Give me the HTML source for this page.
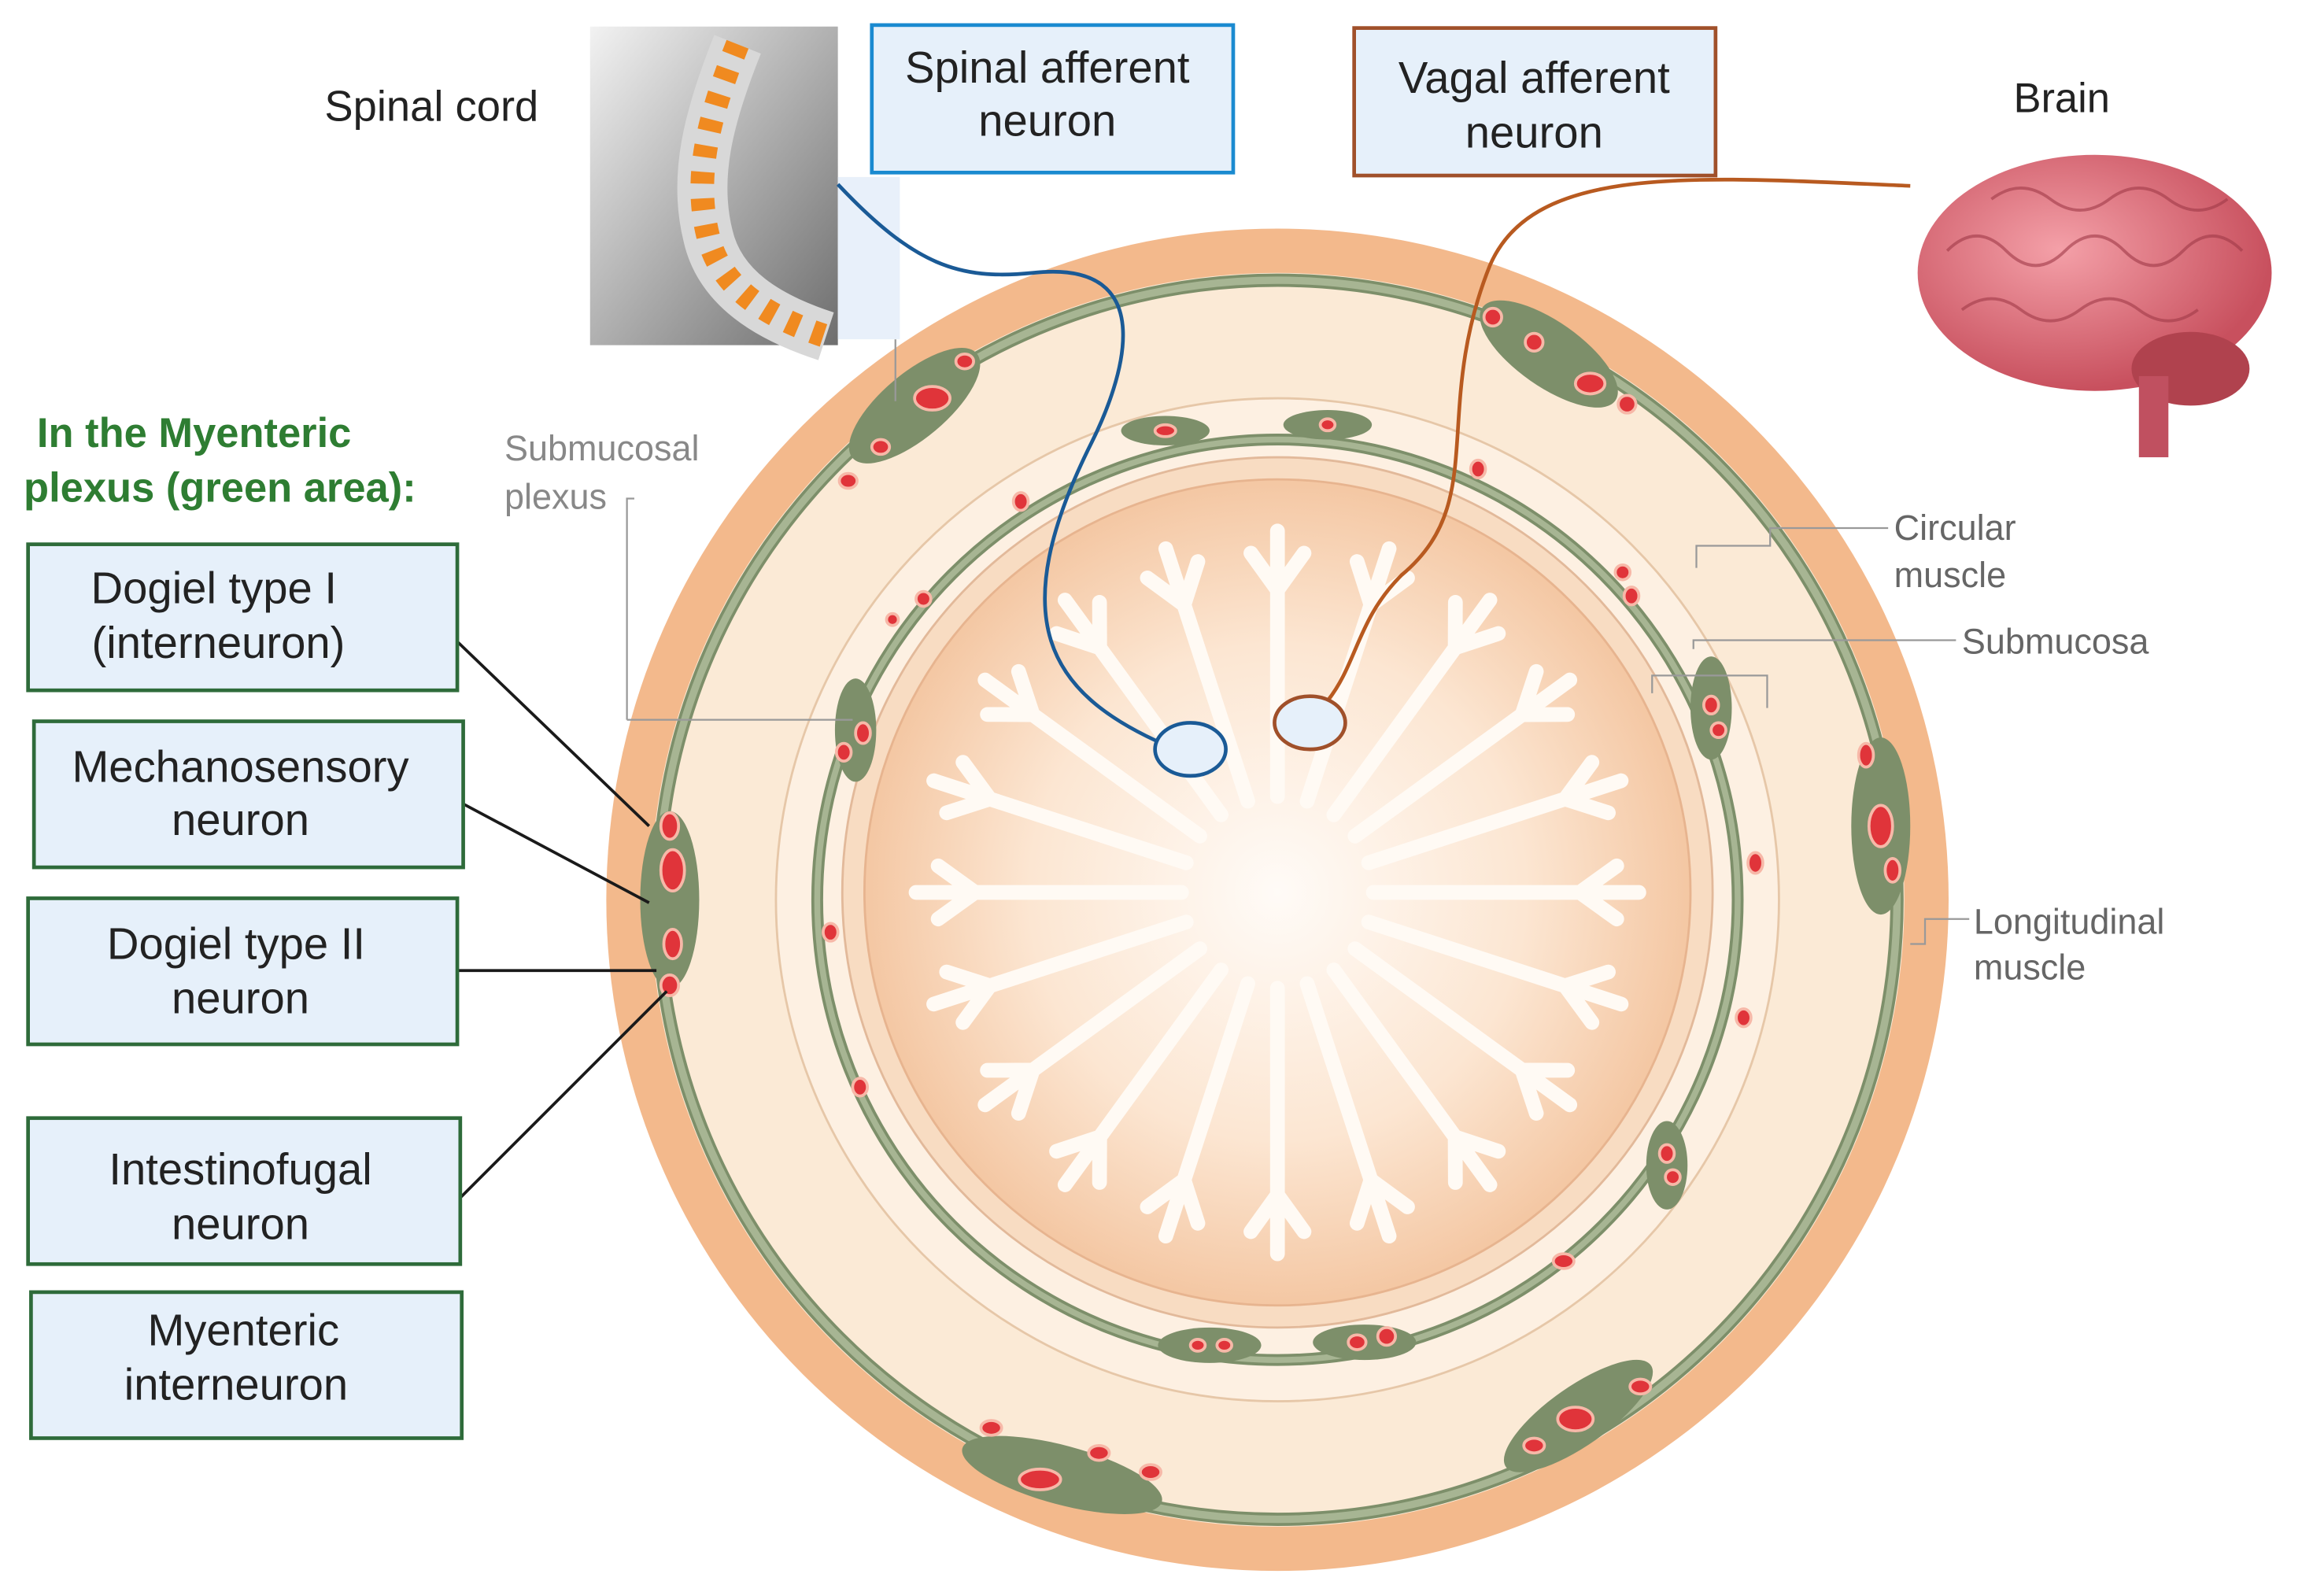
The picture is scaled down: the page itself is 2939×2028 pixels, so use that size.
<!DOCTYPE html>
<html><head><meta charset="utf-8"><style>
html,body{margin:0;padding:0;background:#fff;}
svg{display:block;}
text{font-family:"Liberation Sans","DejaVu Sans",sans-serif;}
</style></head><body>
<svg width="2939" height="2028" viewBox="0 0 1568 1082" xmlns="http://www.w3.org/2000/svg">
<defs>
<radialGradient id="muc" cx="0.5" cy="0.5" r="0.5">
<stop offset="0" stop-color="#fffbf7"/><stop offset="0.6" stop-color="#fce6d2"/><stop offset="1" stop-color="#f4c7a3"/>
</radialGradient>
<linearGradient id="spine" x1="0" y1="0" x2="1" y2="1">
<stop offset="0" stop-color="#f2f2f2"/><stop offset="1" stop-color="#6e6e6e"/>
</linearGradient>
<radialGradient id="brain" cx="0.4" cy="0.4" r="0.6">
<stop offset="0" stop-color="#f4a0a8"/><stop offset="1" stop-color="#c8505e"/>
</radialGradient>
</defs>
<rect width="1568" height="1082" fill="#fff"/>

<circle cx="866" cy="610" r="455" fill="#f3b98c"/>
<circle cx="866" cy="610" r="425" fill="#fbead6"/>
<circle cx="866" cy="610" r="420" fill="none" stroke="#7d8f6a" stroke-width="9"/>
<circle cx="866" cy="610" r="420" fill="none" stroke="#a7b593" stroke-width="5"/>
<circle cx="866" cy="610" r="340" fill="#fdf0e2" stroke="#e6c7a8" stroke-width="1.5"/>
<circle cx="866" cy="610" r="312" fill="none" stroke="#7d8f6a" stroke-width="8"/>
<circle cx="866" cy="610" r="312" fill="none" stroke="#a7b593" stroke-width="4"/>
<circle cx="866" cy="605" r="295" fill="#f8dcc2" stroke="#e2b99a" stroke-width="1.5"/>
<circle cx="866" cy="605" r="280" fill="url(#muc)" stroke="#e7b48f" stroke-width="1.5"/>
<g stroke="#fffaf4" stroke-width="10" stroke-linecap="round" fill="none">
<path d="M866 540 L866 360 M866 400 l-18 -25 M866 400 l18 -25" transform="rotate(0 866 605)"/>
<path d="M866 540 L866 360 M866 400 l-18 -25 M866 400 l18 -25" transform="rotate(18 866 605)"/>
<path d="M866 540 L866 360 M866 400 l-18 -25 M866 400 l18 -25" transform="rotate(36 866 605)"/>
<path d="M866 540 L866 360 M866 400 l-18 -25 M866 400 l18 -25" transform="rotate(54 866 605)"/>
<path d="M866 540 L866 360 M866 400 l-18 -25 M866 400 l18 -25" transform="rotate(72 866 605)"/>
<path d="M866 540 L866 360 M866 400 l-18 -25 M866 400 l18 -25" transform="rotate(90 866 605)"/>
<path d="M866 540 L866 360 M866 400 l-18 -25 M866 400 l18 -25" transform="rotate(108 866 605)"/>
<path d="M866 540 L866 360 M866 400 l-18 -25 M866 400 l18 -25" transform="rotate(126 866 605)"/>
<path d="M866 540 L866 360 M866 400 l-18 -25 M866 400 l18 -25" transform="rotate(144 866 605)"/>
<path d="M866 540 L866 360 M866 400 l-18 -25 M866 400 l18 -25" transform="rotate(162 866 605)"/>
<path d="M866 540 L866 360 M866 400 l-18 -25 M866 400 l18 -25" transform="rotate(180 866 605)"/>
<path d="M866 540 L866 360 M866 400 l-18 -25 M866 400 l18 -25" transform="rotate(198 866 605)"/>
<path d="M866 540 L866 360 M866 400 l-18 -25 M866 400 l18 -25" transform="rotate(216 866 605)"/>
<path d="M866 540 L866 360 M866 400 l-18 -25 M866 400 l18 -25" transform="rotate(234 866 605)"/>
<path d="M866 540 L866 360 M866 400 l-18 -25 M866 400 l18 -25" transform="rotate(252 866 605)"/>
<path d="M866 540 L866 360 M866 400 l-18 -25 M866 400 l18 -25" transform="rotate(270 866 605)"/>
<path d="M866 540 L866 360 M866 400 l-18 -25 M866 400 l18 -25" transform="rotate(288 866 605)"/>
<path d="M866 540 L866 360 M866 400 l-18 -25 M866 400 l18 -25" transform="rotate(306 866 605)"/>
<path d="M866 540 L866 360 M866 400 l-18 -25 M866 400 l18 -25" transform="rotate(324 866 605)"/>
<path d="M866 540 L866 360 M866 400 l-18 -25 M866 400 l18 -25" transform="rotate(342 866 605)"/>
</g>
<g fill="#7d8f6a">
<ellipse cx="454" cy="610" rx="20" ry="60"/>
<ellipse cx="1275" cy="560" rx="20" ry="60"/>
<ellipse cx="1050" cy="240" rx="55" ry="22" transform="rotate(35 1050 240)"/>
<ellipse cx="620" cy="275" rx="55" ry="22" transform="rotate(-40 620 275)"/>
<ellipse cx="720" cy="1000" rx="70" ry="20" transform="rotate(15 720 1000)"/>
<ellipse cx="1070" cy="960" rx="60" ry="20" transform="rotate(-35 1070 960)"/>
<ellipse cx="580" cy="495" rx="14" ry="35"/>
<ellipse cx="1160" cy="480" rx="14" ry="35"/>
<ellipse cx="1130" cy="790" rx="14" ry="30"/>
<ellipse cx="925" cy="910" rx="35" ry="12"/>
<ellipse cx="820" cy="912" rx="35" ry="12"/>
<ellipse cx="790" cy="292" rx="30" ry="10"/>
<ellipse cx="900" cy="288" rx="30" ry="10"/>
</g>
<g fill="#e0343a" stroke="#f7b8a8" stroke-width="2">
<ellipse cx="454" cy="560" rx="6" ry="9"/><ellipse cx="456" cy="590" rx="8" ry="14"/><ellipse cx="456" cy="640" rx="6" ry="10"/><ellipse cx="454" cy="668" rx="6" ry="7"/>
<ellipse cx="1275" cy="560" rx="8" ry="14"/><ellipse cx="1265" cy="512" rx="5" ry="8"/><ellipse cx="1283" cy="590" rx="5" ry="8"/>
<ellipse cx="1012" cy="215" rx="6" ry="6"/><ellipse cx="1040" cy="232" rx="6" ry="6"/><ellipse cx="1078" cy="260" rx="10" ry="7"/><ellipse cx="1103" cy="274" rx="6" ry="6"/>
<ellipse cx="632" cy="270" rx="12" ry="8"/><ellipse cx="654" cy="245" rx="6" ry="5"/><ellipse cx="597" cy="303" rx="6" ry="5"/><ellipse cx="575" cy="326" rx="6" ry="5"/>
<ellipse cx="705" cy="1003" rx="14" ry="7"/><ellipse cx="672" cy="968" rx="7" ry="5"/><ellipse cx="745" cy="985" rx="7" ry="5"/><ellipse cx="780" cy="998" rx="7" ry="5"/>
<ellipse cx="1068" cy="962" rx="12" ry="8"/><ellipse cx="1112" cy="940" rx="7" ry="5"/><ellipse cx="1040" cy="980" rx="7" ry="5"/>
<ellipse cx="585" cy="497" rx="5" ry="7"/><ellipse cx="572" cy="510" rx="5" ry="6"/><ellipse cx="563" cy="632" rx="5" ry="6"/><ellipse cx="583" cy="737" rx="5" ry="6"/>
<ellipse cx="1100" cy="388" rx="5" ry="5"/><ellipse cx="1106" cy="404" rx="5" ry="6"/><ellipse cx="1160" cy="478" rx="5" ry="6"/><ellipse cx="1165" cy="495" rx="5" ry="5"/>
<ellipse cx="1190" cy="585" rx="5" ry="7"/><ellipse cx="1182" cy="690" rx="5" ry="6"/><ellipse cx="1130" cy="782" rx="5" ry="6"/><ellipse cx="1134" cy="798" rx="5" ry="5"/>
<ellipse cx="920" cy="910" rx="6" ry="5"/><ellipse cx="940" cy="906" rx="6" ry="6"/><ellipse cx="812" cy="912" rx="5" ry="4"/><ellipse cx="830" cy="912" rx="5" ry="4"/>
<ellipse cx="790" cy="292" rx="7" ry="4"/><ellipse cx="900" cy="288" rx="5" ry="4"/><ellipse cx="1002" cy="318" rx="5" ry="6"/><ellipse cx="692" cy="340" rx="5" ry="6"/>
<ellipse cx="626" cy="406" rx="5" ry="5"/><ellipse cx="605" cy="420" rx="4" ry="4"/><ellipse cx="1060" cy="855" rx="7" ry="5"/>
</g>

<g stroke="#999" stroke-width="1.2" fill="none">
<polyline points="1150,385 1150,370 1200,370 1200,358 1280,358"/>
<polyline points="1148,440 1148,434 1326,434"/>
<polyline points="1120,470 1120,458 1198,458 1198,480"/>
<polyline points="1295,640 1305,640 1305,623 1335,623"/>
<polyline points="425,488 425,338 430,338"/>
<line x1="425" y1="488" x2="578" y2="488"/>
<line x1="607" y1="230" x2="607" y2="272"/>
</g>
<text x="1284" y="366" font-size="24" fill="#666">Circular</text>
<text x="1284" y="398" font-size="24" fill="#666">muscle</text>
<text x="1330" y="443" font-size="24" fill="#666">Submucosa</text>
<text x="1338" y="633" font-size="24" fill="#666">Longitudinal</text>
<text x="1338" y="664" font-size="24" fill="#666">muscle</text>
<text x="342" y="312" font-size="24" fill="#888">Submucosal</text>
<text x="342" y="345" font-size="24" fill="#888">plexus</text>

<rect x="400" y="18" width="168" height="216" fill="url(#spine)"/>
<rect x="568" y="120" width="42" height="110" fill="#e8f0fa"/>
<path d="M500 30 C480 80 470 120 480 160 C488 195 520 215 560 228" fill="none" stroke="#d8d8d8" stroke-width="34"/>
<path d="M500 30 C480 80 470 120 480 160 C488 195 520 215 560 228" fill="none" stroke="#f08a20" stroke-width="16" stroke-dasharray="8 10"/>
<text x="220" y="82" font-size="29" fill="#222">Spinal cord</text>

<path d="M568 125 C620 180 650 190 700 185 C790 175 760 260 740 300 C680 420 710 470 790 505" fill="none" stroke="#1a5a96" stroke-width="2.5"/>
<ellipse cx="807" cy="508" rx="24" ry="18" fill="#e6f0fa" stroke="#1a5a96" stroke-width="2.5"/>
<path d="M1295 126 C1150 120 1040 110 1010 180 C970 280 1010 340 950 390 C920 420 920 450 900 475" fill="none" stroke="#b85a20" stroke-width="2.5"/>
<ellipse cx="888" cy="490" rx="24" ry="18" fill="#e6f0fa" stroke="#a0502a" stroke-width="2.5"/>

<ellipse cx="1420" cy="185" rx="120" ry="80" fill="url(#brain)"/>
<ellipse cx="1485" cy="250" rx="40" ry="25" fill="#b0424e"/>
<rect x="1450" y="255" width="20" height="55" fill="#c05060"/>
<g fill="none" stroke="#a03a48" stroke-width="2" opacity="0.6">
<path d="M1320 170 q20 -20 40 0 t40 0 t40 0 t40 0 t40 0"/>
<path d="M1330 210 q20 -15 40 0 t40 0 t40 0 t40 0"/>
<path d="M1350 135 q20 -15 40 0 t40 0 t40 0 t40 0"/>
</g>
<text x="1365" y="76" font-size="28" fill="#222">Brain</text>

<rect x="591" y="17" width="245" height="100" fill="#e6f0fa" stroke="#1a8ad0" stroke-width="2.5"/>
<text x="710" y="56" font-size="30" text-anchor="middle" fill="#222">Spinal afferent</text>
<text x="710" y="92" font-size="30" text-anchor="middle" fill="#222">neuron</text>
<rect x="918" y="19" width="245" height="100" fill="#e6f0fa" stroke="#a0502a" stroke-width="2.5"/>
<text x="1040" y="63" font-size="30" text-anchor="middle" fill="#222">Vagal afferent</text>
<text x="1040" y="100" font-size="30" text-anchor="middle" fill="#222">neuron</text>

<text x="25" y="303" font-size="28" font-weight="bold" fill="#2e7d32">In the Myenteric</text>
<text x="16" y="340" font-size="28" font-weight="bold" fill="#2e7d32">plexus (green area):</text>
<g stroke="#1a1a1a" stroke-width="2">
<line x1="310" y1="435" x2="440" y2="560"/>
<line x1="314" y1="545" x2="440" y2="612"/>
<line x1="310" y1="658" x2="445" y2="658"/>
<line x1="312" y1="812" x2="452" y2="672"/>
</g>
<g fill="#e6f0fa" stroke="#2e6b3a" stroke-width="2.5">
<rect x="19" y="369" width="291" height="99"/>
<rect x="23" y="489" width="291" height="99"/>
<rect x="19" y="609" width="291" height="99"/>
<rect x="19" y="758" width="293" height="99"/>
<rect x="21" y="876" width="292" height="99"/>
</g>
<g font-size="30" fill="#222" text-anchor="middle">
<text x="145" y="409">Dogiel type I</text><text x="148" y="446">(interneuron)</text>
<text x="163" y="530">Mechanosensory</text><text x="163" y="566">neuron</text>
<text x="160" y="650">Dogiel type II</text><text x="163" y="687">neuron</text>
<text x="163" y="803">Intestinofugal</text><text x="163" y="840">neuron</text>
<text x="165" y="912">Myenteric</text><text x="160" y="949">interneuron</text>
</g>
</svg>
</body></html>
